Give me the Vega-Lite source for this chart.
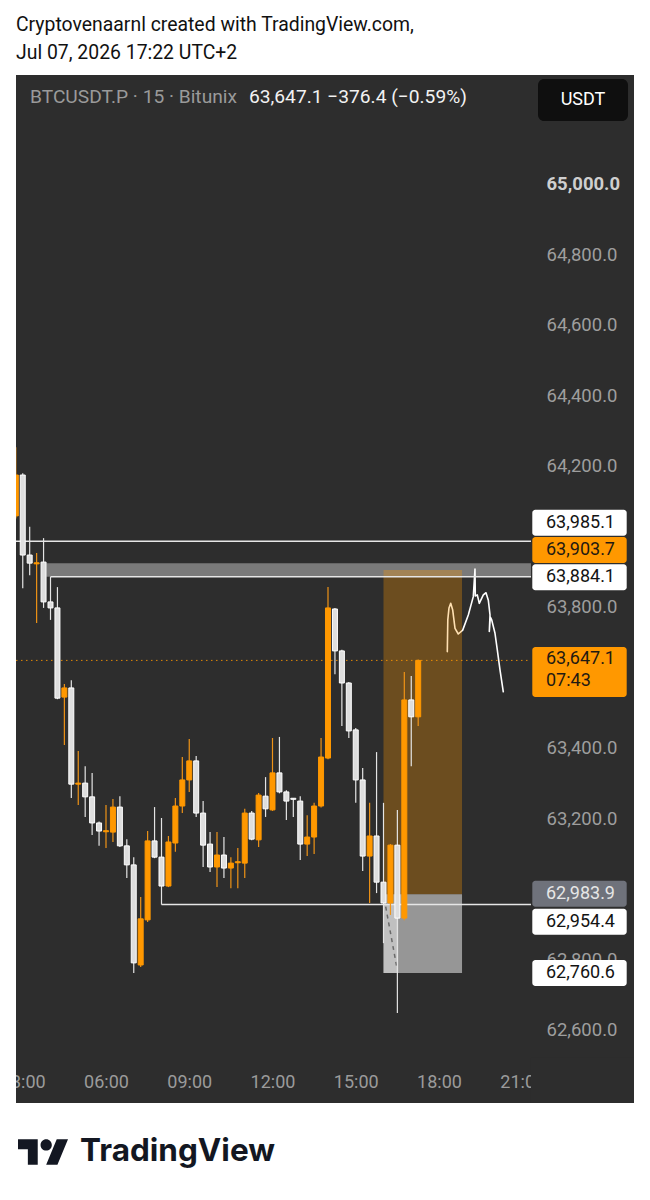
{
 "$schema": "https://vega.github.io/schema/vega-lite/v6.json",
 "width": 618,
 "height": 1028,
 "autosize": {"type": "none"},
 "padding": {"left": 16, "right": 16, "top": 75, "bottom": 97},
 "background": "#ffffff",
 "config": {"view": {"stroke": null, "fill": "#2d2d2d"}, "font": "Roboto", "scale": {"continuousPadding": 0}},
 "title": {
  "text": "Cryptovenaarnl created with TradingView.com,",
  "subtitle": "Jul 07, 2026 17:22 UTC+2",
  "anchor": "start", "frame": "group",
  "font": "Roboto", "fontSize": 19.4, "fontWeight": "normal", "color": "#111111",
  "subtitleFont": "Roboto", "subtitleFontSize": 19.4, "subtitleColor": "#111111",
  "subtitlePadding": 8, "offset": 12
 },
 "datasets": {
  "candles": [
   {"t":2.75,"o":64057,"h":64252,"l":64050,"c":64173},
   {"t":3.0,"o":64173,"h":64178,"l":63852,"c":63946},
   {"t":3.25,"o":63946,"h":64026,"l":63889,"c":63923},
   {"t":3.5,"o":63921,"h":63952,"l":63753,"c":63924},
   {"t":3.75,"o":63926,"h":63994,"l":63796,"c":63813},
   {"t":4.0,"o":63813,"h":63884.1,"l":63762,"c":63796},
   {"t":4.25,"o":63796,"h":63855,"l":63537,"c":63540},
   {"t":4.5,"o":63543,"h":63580,"l":63407,"c":63569},
   {"t":4.75,"o":63569,"h":63591,"l":63257,"c":63296},
   {"t":5.0,"o":63296,"h":63390,"l":63237,"c":63299},
   {"t":5.25,"o":63299,"h":63347,"l":63203,"c":63260},
   {"t":5.5,"o":63260,"h":63328,"l":63152,"c":63186},
   {"t":5.75,"o":63186,"h":63190,"l":63121,"c":63163},
   {"t":6.0,"o":63161,"h":63237,"l":63115,"c":63164},
   {"t":6.25,"o":63160,"h":63254,"l":63132,"c":63231},
   {"t":6.5,"o":63231,"h":63262,"l":63118,"c":63121},
   {"t":6.75,"o":63121,"h":63140,"l":63030,"c":63067},
   {"t":7.0,"o":63067,"h":63089,"l":62760,"c":62789},
   {"t":7.25,"o":62783,"h":62976,"l":62777,"c":62914},
   {"t":7.5,"o":62911,"h":63163,"l":62905,"c":63135},
   {"t":7.75,"o":63135,"h":63231,"l":63086,"c":63089},
   {"t":8.0,"o":63089,"h":63200,"l":62954.4,"c":63007},
   {"t":8.25,"o":63007,"h":63149,"l":63004,"c":63132},
   {"t":8.5,"o":63129,"h":63257,"l":63104,"c":63234},
   {"t":8.75,"o":63234,"h":63373,"l":63214,"c":63308},
   {"t":9.0,"o":63308,"h":63424,"l":63274,"c":63362},
   {"t":9.25,"o":63362,"h":63376,"l":63203,"c":63214},
   {"t":9.5,"o":63214,"h":63248,"l":63061,"c":63123},
   {"t":9.75,"o":63126,"h":63160,"l":63047,"c":63061},
   {"t":10.0,"o":63061,"h":63160,"l":63004,"c":63095},
   {"t":10.25,"o":63095,"h":63146,"l":63030,"c":63058},
   {"t":10.5,"o":63058,"h":63089,"l":63001,"c":63072},
   {"t":10.75,"o":63073,"h":63115,"l":63001,"c":63076},
   {"t":11.0,"o":63072,"h":63226,"l":63030,"c":63214},
   {"t":11.25,"o":63214,"h":63220,"l":63137,"c":63140},
   {"t":11.5,"o":63138,"h":63271,"l":63118,"c":63265},
   {"t":11.75,"o":63262,"h":63316,"l":63203,"c":63226},
   {"t":12.0,"o":63223,"h":63427,"l":63220,"c":63328},
   {"t":12.25,"o":63328,"h":63430,"l":63270,"c":63274},
   {"t":12.5,"o":63274,"h":63279,"l":63194,"c":63248},
   {"t":12.75,"o":63256,"h":63257,"l":63203,"c":63253},
   {"t":13.0,"o":63248,"h":63262,"l":63081,"c":63126},
   {"t":13.25,"o":63126,"h":63208,"l":63092,"c":63146},
   {"t":13.5,"o":63146,"h":63243,"l":63098,"c":63234},
   {"t":13.75,"o":63234,"h":63427,"l":63230,"c":63373},
   {"t":14.0,"o":63370,"h":63855,"l":63367,"c":63796},
   {"t":14.25,"o":63793,"h":63796,"l":63608,"c":63674},
   {"t":14.5,"o":63674,"h":63677,"l":63461,"c":63583},
   {"t":14.75,"o":63583,"h":63586,"l":63427,"c":63447},
   {"t":15.0,"o":63450,"h":63455,"l":63243,"c":63308},
   {"t":15.25,"o":63308,"h":63342,"l":63050,"c":63092},
   {"t":15.5,"o":63092,"h":63243,"l":62959,"c":63149},
   {"t":15.75,"o":63149,"h":63387,"l":62987,"c":63018},
   {"t":16.0,"o":63018,"h":63243,"l":62845,"c":62959},
   {"t":16.25,"o":62959,"h":63126,"l":62925,"c":63123},
   {"t":16.5,"o":63123,"h":63223,"l":62647,"c":62916},
   {"t":16.75,"o":62916,"h":63614,"l":62910,"c":63535},
   {"t":17.0,"o":63535,"h":63603,"l":63347,"c":63487},
   {"t":17.25,"o":63487,"h":63650,"l":63461,"c":63647.1}
  ],
  "curve": [
   {"i":1,"t":18.299,"p":63672},{"i":2,"t":18.317,"p":63762},{"i":3,"t":18.36,"p":63796},
   {"i":4,"t":18.422,"p":63809},{"i":5,"t":18.494,"p":63790},{"i":6,"t":18.577,"p":63738},
   {"i":7,"t":18.695,"p":63722},{"i":8,"t":18.854,"p":63733},{"i":9,"t":19.056,"p":63776},
   {"i":10,"t":19.236,"p":63828},{"i":11,"t":19.297,"p":63906},{"i":12,"t":19.308,"p":63830},
   {"i":13,"t":19.38,"p":63833},{"i":14,"t":19.452,"p":63809},{"i":15,"t":19.597,"p":63833},
   {"i":16,"t":19.694,"p":63839},{"i":17,"t":19.777,"p":63818},{"i":18,"t":19.838,"p":63776},
   {"i":19,"t":19.813,"p":63729},{"i":20,"t":19.85,"p":63770},{"i":21,"t":19.899,"p":63762},
   {"i":22,"t":20.018,"p":63724},{"i":23,"t":20.101,"p":63677},{"i":24,"t":20.198,"p":63620},
   {"i":25,"t":20.317,"p":63558}
  ],
  "levels": [
   {"p":63985.1,"t0":2.7568},
   {"p":63884.1,"t0":4.0},
   {"p":62954.4,"t0":8.0}
  ],
  "zones": [
   {"zone":"target","t0":16.0,"t1":18.83,"p0":62983.9,"p1":63903.7},
   {"zone":"stop","t0":16.0,"t1":18.83,"p0":62760.6,"p1":62983.9},
   {"zone":"hl","t0":16.0,"t1":16.53,"p0":62760.6,"p1":62954.4}
  ],
  "tags": [
   {"ly":64037.7,"kind":"w"},
   {"ly":63960.3,"kind":"o"},
   {"ly":63882.8,"kind":"w"},
   {"ly":63614.2,"kind":"last"},
   {"ly":62985.2,"kind":"g"},
   {"ly":62905.8,"kind":"w"},
   {"ly":62760.3,"kind":"w"}
  ],
  "tagtext": [
   {"label":"63,985.1","ly":64037.7,"kind":"w"},
   {"label":"63,903.7","ly":63960.3,"kind":"o"},
   {"label":"63,884.1","ly":63882.8,"kind":"w"},
   {"label":"63,647.1","ly":63651.1,"kind":"last"},
   {"label":"07:43","ly":63588.6,"kind":"last"},
   {"label":"62,983.9","ly":62985.2,"kind":"g"},
   {"label":"62,954.4","ly":62905.8,"kind":"w"},
   {"label":"62,760.6","ly":62760.3,"kind":"w"}
  ]
 },
 "layer": [
  {
   "data": {"values": [{"t0": 3.85, "t1": 21.315, "p0": 63884.1, "p1": 63922.5}]},
   "mark": {"type": "rect", "fill": "#7a7a7a"},
   "encoding": {
    "x": {"field": "t0", "type": "quantitative", "scale": {"domain": [2.7568, 25.027], "nice": false, "zero": false, "padding": 0}},
    "x2": {"field": "t1"},
    "y": {"field": "p0", "type": "quantitative", "scale": {"domain": [62391.5, 65307.8], "nice": false, "zero": false, "padding": 0}},
    "y2": {"field": "p1"}
   }
  },
  {
   "data": {"name": "curve"},
   "mark": {"type": "line", "color": "#ffffff", "strokeWidth": 1.6, "strokeCap": "round", "strokeJoin": "round"},
   "encoding": {
    "x": {"field": "t", "type": "quantitative", "scale": {"domain": [2.7568, 25.027], "nice": false, "zero": false, "padding": 0}},
    "y": {"field": "p", "type": "quantitative", "scale": {"domain": [62391.5, 65307.8], "nice": false, "zero": false, "padding": 0}},
    "order": {"field": "i"}
   }
  },
  {
   "data": {"name": "zones"},
   "mark": {"type": "rect"},
   "encoding": {
    "x": {"field": "t0", "type": "quantitative", "scale": {"domain": [2.7568, 25.027], "nice": false, "zero": false, "padding": 0}},
    "x2": {"field": "t1"},
    "y": {"field": "p0", "type": "quantitative", "scale": {"domain": [62391.5, 65307.8], "nice": false, "zero": false, "padding": 0}},
    "y2": {"field": "p1"},
    "fill": {"condition": {"test": "datum.zone == 'target'", "value": "#ff9800"}, "value": "#ffffff"},
    "fillOpacity": {"condition": [{"test": "datum.zone == 'target'", "value": 0.3}, {"test": "datum.zone == 'stop'", "value": 0.5}], "value": 0.4}
   }
  },
  {
   "data": {"values": [{"t": 16.079, "p": 62948.4}, {"t": 16.476, "p": 62778.1}]},
   "mark": {"type": "line", "color": "#6a6a6a", "strokeDash": [4, 4], "strokeWidth": 1.5},
   "encoding": {
    "x": {"field": "t", "type": "quantitative", "scale": {"domain": [2.7568, 25.027], "nice": false, "zero": false, "padding": 0}},
    "y": {"field": "p", "type": "quantitative", "scale": {"domain": [62391.5, 65307.8], "nice": false, "zero": false, "padding": 0}}
   }
  },
  {
   "data": {"name": "levels"},
   "mark": {"type": "rule", "color": "#e6e6e6", "strokeWidth": 1.5},
   "encoding": {
    "x": {"field": "t0", "type": "quantitative", "scale": {"domain": [2.7568, 25.027], "nice": false, "zero": false, "padding": 0}},
    "x2": {"datum": 21.315},
    "y": {"field": "p", "type": "quantitative", "scale": {"domain": [62391.5, 65307.8], "nice": false, "zero": false, "padding": 0}}
   }
  },
  {
   "data": {"values": [{"p": 63647.1}]},
   "mark": {"type": "rule", "color": "#ff9800", "strokeWidth": 1, "strokeDash": [1.5, 3.5], "opacity": 0.85},
   "encoding": {
    "x": {"datum": 2.7568, "type": "quantitative", "scale": {"domain": [2.7568, 25.027], "nice": false, "zero": false, "padding": 0}},
    "x2": {"datum": 21.315},
    "y": {"field": "p", "type": "quantitative", "scale": {"domain": [62391.5, 65307.8], "nice": false, "zero": false, "padding": 0}}
   }
  },
  {
   "data": {"name": "candles"},
   "mark": {"type": "rule", "strokeWidth": 1.2, "clip": true},
   "encoding": {
    "x": {"field": "t", "type": "quantitative", "scale": {"domain": [2.7568, 25.027], "nice": false, "zero": false, "padding": 0},
     "axis": {"orient": "bottom", "offset": -34, "values": [3, 6, 9, 12, 15, 18, 21],
      "labelExpr": "(datum.value < 10 ? '0' : '') + datum.value + ':00'",
      "domain": false, "ticks": false, "grid": false, "labelPadding": 4, "labelFont": "Roboto", "labelFontSize": 18,
      "labelColor": "#9b9b9b", "labelFlush": false, "labelOverlap": false, "title": null}},
    "y": {"field": "l", "type": "quantitative", "scale": {"domain": [62391.5, 65307.8], "nice": false, "zero": false, "padding": 0},
     "axis": {"orient": "right", "offset": -90,
      "values": [62600, 62800, 63200, 63400, 63800, 64200, 64400, 64600, 64800, 65000],
      "format": ",.1f", "domain": false, "ticks": false, "grid": false, "labelAlign": "left", "labelPadding": 2,
      "labelBaseline": "middle", "labelFont": "Roboto", "labelFontSize": 18.5,
      "labelColor": {"condition": {"test": "datum.value == 65000", "value": "#cfcfcf"}, "value": "#9e9e9e"},
      "labelFontWeight": {"condition": {"test": "datum.value == 65000", "value": "bold"}, "value": "normal"},
      "labelOverlap": false, "title": null}},
    "y2": {"field": "h"},
    "color": {"condition": {"test": "datum.c >= datum.o", "value": "#ef9316"}, "value": "#e4e4e4"}
   }
  },
  {
   "data": {"name": "candles"},
   "mark": {"type": "bar", "size": 5, "strokeWidth": 1, "clip": true},
   "encoding": {
    "x": {"field": "t", "type": "quantitative", "scale": {"domain": [2.7568, 25.027], "nice": false, "zero": false, "padding": 0}},
    "y": {"field": "o", "type": "quantitative", "scale": {"domain": [62391.5, 65307.8], "nice": false, "zero": false, "padding": 0}},
    "y2": {"field": "c"},
    "fill": {"condition": {"test": "datum.c >= datum.o", "value": "#ff9800"}, "value": "#dedede"},
    "stroke": {"condition": {"test": "datum.c >= datum.o", "value": "#ff9800"}, "value": "#ffffff"}
   }
  },
  {
   "data": {"values": [{"side": "r", "t0": 21.315, "t1": 25.027}, {"side": "l", "t0": 2.1, "t1": 2.7568}]},
   "mark": {"type": "rect"},
   "encoding": {
    "x": {"field": "t0", "type": "quantitative", "scale": {"domain": [2.7568, 25.027], "nice": false, "zero": false, "padding": 0}},
    "x2": {"field": "t1"},
    "y": {"datum": 62391.5, "type": "quantitative", "scale": {"domain": [62391.5, 65307.8], "nice": false, "zero": false, "padding": 0}},
    "y2": {"datum": 62520},
    "fill": {"condition": {"test": "datum.side == 'r'", "value": "#2d2d2d"}, "value": "#ffffff"}
   }
  },
  {
   "data": {"name": "tags"},
   "mark": {"type": "bar", "cornerRadius": 3},
   "encoding": {
    "x": {"datum": 21.362, "type": "quantitative", "scale": {"domain": [2.7568, 25.027], "nice": false, "zero": false, "padding": 0}},
    "x2": {"datum": 24.764},
    "y": {"field": "ly", "type": "quantitative", "scale": {"domain": [62391.5, 65307.8], "nice": false, "zero": false, "padding": 0}},
    "size": {"condition": {"test": "datum.kind == 'last'", "value": 50}, "value": 26},
    "fill": {"field": "kind", "type": "nominal", "scale": {"domain": ["w", "o", "last", "g"], "range": ["#ffffff", "#ff9800", "#ff9800", "#6f727b"]}, "legend": null}
   }
  },
  {
   "data": {"name": "tagtext"},
   "mark": {"type": "text", "align": "left", "baseline": "middle", "fontSize": 18, "font": "Roboto"},
   "encoding": {
    "x": {"datum": 21.856, "type": "quantitative", "scale": {"domain": [2.7568, 25.027], "nice": false, "zero": false, "padding": 0}},
    "y": {"field": "ly", "type": "quantitative", "scale": {"domain": [62391.5, 65307.8], "nice": false, "zero": false, "padding": 0}},
    "text": {"field": "label"},
    "color": {"field": "kind", "type": "nominal", "scale": {"domain": ["w", "o", "last", "g"], "range": ["#131313", "#1f1a12", "#1f1a12", "#e6e6e6"]}, "legend": null}
   }
  },
  {
   "data": {"values": [{"label": "USDT"}]},
   "mark": {"type": "bar", "cornerRadius": 6, "fill": "#0f0f0f", "size": 42},
   "encoding": {
    "x": {"datum": 21.568, "type": "quantitative", "scale": {"domain": [2.7568, 25.027], "nice": false, "zero": false, "padding": 0}},
    "x2": {"datum": 24.811},
    "y": {"datum": 65236.9, "type": "quantitative", "scale": {"domain": [62391.5, 65307.8], "nice": false, "zero": false, "padding": 0}}
   }
  },
  {
   "data": {"values": [{"label": "USDT"}]},
   "mark": {"type": "text", "align": "center", "baseline": "middle", "fontSize": 18, "font": "Roboto", "color": "#ffffff"},
   "encoding": {
    "x": {"datum": 23.19, "type": "quantitative", "scale": {"domain": [2.7568, 25.027], "nice": false, "zero": false, "padding": 0}},
    "y": {"datum": 65236.9, "type": "quantitative", "scale": {"domain": [62391.5, 65307.8], "nice": false, "zero": false, "padding": 0}},
    "text": {"field": "label"}
   }
  },
  {
   "data": {"values": [{"label": "BTCUSDT.P · 15 · Bitunix"}]},
   "mark": {"type": "text", "align": "left", "baseline": "middle", "fontSize": 19.2, "font": "Roboto", "color": "#9a9a9a"},
   "encoding": {
    "x": {"datum": 3.261, "type": "quantitative", "scale": {"domain": [2.7568, 25.027], "nice": false, "zero": false, "padding": 0}},
    "y": {"datum": 65245.4, "type": "quantitative", "scale": {"domain": [62391.5, 65307.8], "nice": false, "zero": false, "padding": 0}},
    "text": {"field": "label"}
   }
  },
  {
   "data": {"values": [{"label": "63,647.1  −376.4 (−0.59%)"}]},
   "mark": {"type": "text", "align": "left", "baseline": "middle", "fontSize": 19.2, "font": "Roboto", "color": "#f2f2f2"},
   "encoding": {
    "x": {"datum": 11.153, "type": "quantitative", "scale": {"domain": [2.7568, 25.027], "nice": false, "zero": false, "padding": 0}},
    "y": {"datum": 65245.4, "type": "quantitative", "scale": {"domain": [62391.5, 65307.8], "nice": false, "zero": false, "padding": 0}},
    "text": {"field": "label"}
   }
  },
  {
   "data": {"values": [{"label": "TradingView"}]},
   "mark": {"type": "text", "align": "left", "baseline": "middle", "fontSize": 31.5, "font": "Inter", "fontWeight": "bold", "color": "#131722"},
   "encoding": {
    "x": {"datum": 5.063, "type": "quantitative", "scale": {"domain": [2.7568, 25.027], "nice": false, "zero": false, "padding": 0}},
    "y": {"datum": 62252.5, "type": "quantitative", "scale": {"domain": [62391.5, 65307.8], "nice": false, "zero": false, "padding": 0}},
    "text": {"field": "label"}
   }
  },
  {
   "data": {"values": [{"label": "logo"}]},
   "mark": {"type": "point", "filled": true, "opacity": 1, "color": "#131722", "size": 2500,
    "shape": "M-0.211,0.507 H-0.606 V-0.113 H-1 V-0.507 H-0.211 Z M0.577,0.507 H0.127 L0.549,-0.507 H1 Z M-0.098,-0.282 A0.225,0.225 0 1,0 0.352,-0.282 A0.225,0.225 0 1,0 -0.098,-0.282 Z"},
   "encoding": {
    "x": {"datum": 3.73, "type": "quantitative", "scale": {"domain": [2.7568, 25.027], "nice": false, "zero": false, "padding": 0}},
    "y": {"datum": 62252.5, "type": "quantitative", "scale": {"domain": [62391.5, 65307.8], "nice": false, "zero": false, "padding": 0}}
   }
  }
 ]
}
